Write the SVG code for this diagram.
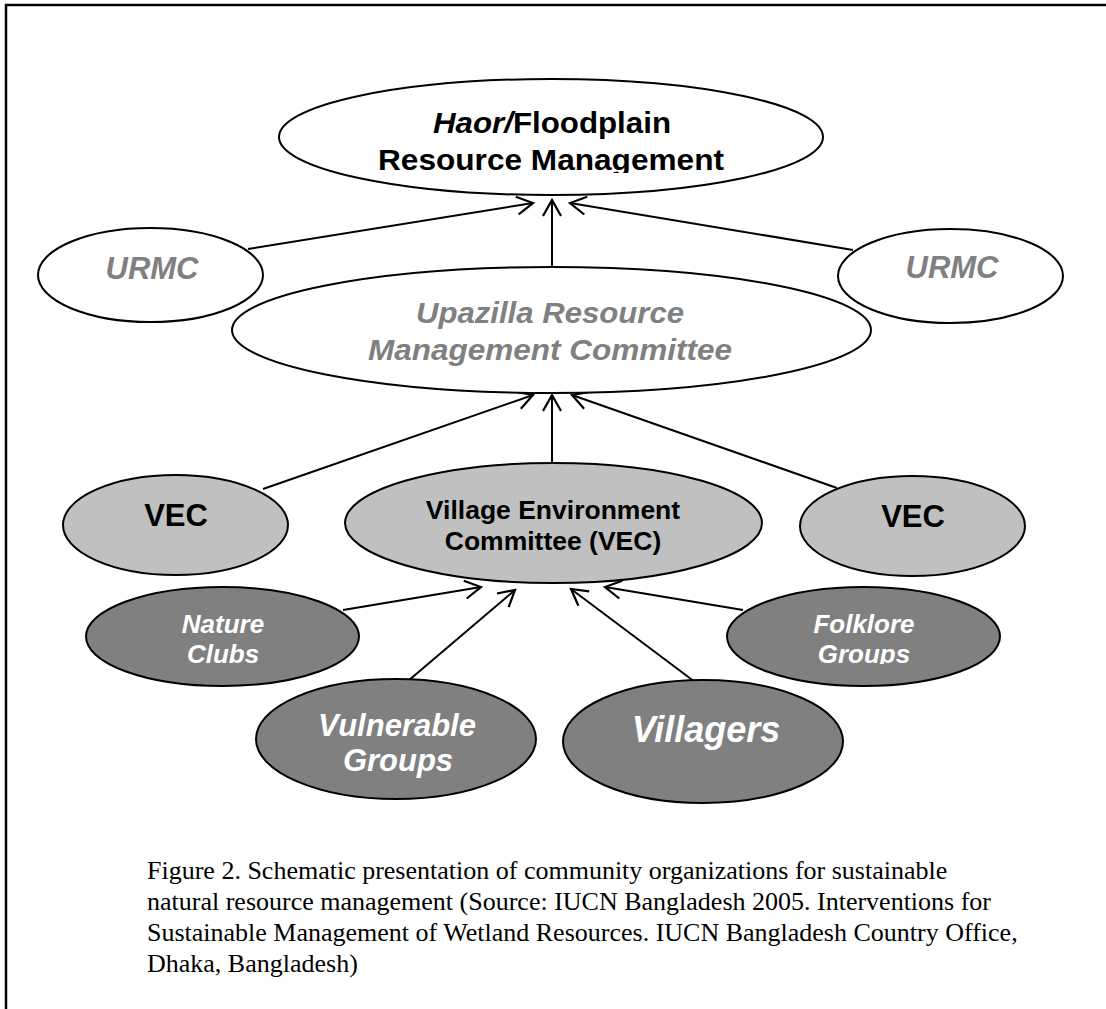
<svg xmlns="http://www.w3.org/2000/svg" width="1106" height="1009" viewBox="0 0 1106 1009">
<defs>
<marker id="arr" markerUnits="userSpaceOnUse" markerWidth="22" markerHeight="22" refX="0" refY="0" orient="auto" viewBox="-19 -11 22 22">
<path d="M-16,-9 L0,0 L-16,9" fill="none" stroke="#000" stroke-width="2.2"/>
</marker>
<clipPath id="clipTop"><rect x="0" y="0" width="1106" height="173"/></clipPath>
<clipPath id="clipFolk"><rect x="0" y="0" width="1106" height="664"/></clipPath>
</defs>
<style>
.e{stroke:#000;stroke-width:2}
.w{fill:#fff}
.g1{fill:#c0c0c0}
.g2{fill:#808080}
.t{font-family:"Liberation Sans",Arial,sans-serif;font-weight:bold;text-anchor:middle}
.k{fill:#000}
.gi{fill:#808080;font-style:italic}
.wi{fill:#fff;font-style:italic}
.cap{font-family:"Liberation Serif","Times New Roman",serif;font-size:26px;fill:#000}
.c{stroke:#000;stroke-width:2;fill:none;marker-end:url(#arr)}
</style>
<rect width="1106" height="1009" fill="#fff"/>
<path d="M6,1009 V5 H1106" fill="none" stroke="#000" stroke-width="2.5"/>

<g id="connectors">
<line class="c" x1="248" y1="249" x2="533" y2="203"/>
<line class="c" x1="552" y1="267" x2="552" y2="200"/>
<line class="c" x1="853" y1="250" x2="570" y2="203"/>
<line class="c" x1="263" y1="489" x2="533" y2="395"/>
<line class="c" x1="552" y1="463" x2="552" y2="395"/>
<line class="c" x1="837" y1="488" x2="572" y2="395"/>
<line class="c" x1="343" y1="610" x2="481" y2="587"/>
<line class="c" x1="408" y1="681" x2="515" y2="590"/>
<line class="c" x1="695" y1="682" x2="571" y2="589"/>
<line class="c" x1="743" y1="610" x2="605" y2="587"/>
</g>

<g id="haor">
<ellipse class="e w" cx="551" cy="137" rx="272" ry="58"/>
<text class="t k" x="552" y="133" font-size="30" textLength="238" lengthAdjust="spacingAndGlyphs"><tspan font-style="italic">Haor/</tspan>Floodplain</text>
<text class="t k" x="551" y="170" font-size="30" textLength="346" lengthAdjust="spacingAndGlyphs" clip-path="url(#clipTop)">Resource Management</text>
</g>

<g id="urmc-left">
<ellipse class="e w" cx="150.5" cy="275" rx="112.5" ry="47"/>
<text class="t gi" x="152" y="279" font-size="31">URMC</text>
</g>

<g id="urmc-right">
<ellipse class="e w" cx="950.5" cy="276" rx="112.5" ry="47"/>
<text class="t gi" x="952" y="278" font-size="31">URMC</text>
</g>

<g id="upazilla">
<ellipse class="e w" cx="551.5" cy="330" rx="319.5" ry="63"/>
<text class="t gi" x="550" y="323" font-size="30" textLength="268" lengthAdjust="spacingAndGlyphs">Upazilla Resource</text>
<text class="t gi" x="550" y="360" font-size="30" textLength="364" lengthAdjust="spacingAndGlyphs">Management Committee</text>
</g>

<g id="vec-left">
<ellipse class="e g1" cx="175.5" cy="525" rx="112.5" ry="50"/>
<text class="t k" x="176" y="526" font-size="31">VEC</text>
</g>

<g id="vec-center">
<ellipse class="e g1" cx="553.5" cy="523" rx="208.5" ry="60"/>
<text class="t k" x="553" y="519" font-size="26.5">Village Environment</text>
<text class="t k" x="553" y="550" font-size="26.5">Committee (VEC)</text>
</g>

<g id="vec-right">
<ellipse class="e g1" cx="912.5" cy="526" rx="112.5" ry="50"/>
<text class="t k" x="913" y="527" font-size="31">VEC</text>
</g>

<g id="nature">
<ellipse class="e g2" cx="222.5" cy="636.5" rx="136.5" ry="49.5"/>
<text class="t wi" x="223" y="633" font-size="26">Nature</text>
<text class="t wi" x="223" y="663" font-size="26">Clubs</text>
</g>

<g id="folklore">
<ellipse class="e g2" cx="863.5" cy="636.5" rx="136.5" ry="49.5"/>
<text class="t wi" x="864" y="633" font-size="26">Folklore</text>
<text class="t wi" x="864" y="663" font-size="26" clip-path="url(#clipFolk)">Groups</text>
</g>

<g id="vulnerable">
<ellipse class="e g2" cx="396" cy="739" rx="140" ry="60"/>
<text class="t wi" x="397" y="736" font-size="31">Vulnerable</text>
<text class="t wi" x="398" y="771" font-size="31">Groups</text>
</g>

<g id="villagers">
<ellipse class="e g2" cx="703" cy="741.5" rx="140" ry="61.5"/>
<text class="t wi" x="706" y="742" font-size="36">Villagers</text>
</g>

<g id="caption">
<text class="cap" x="147" y="879">Figure 2. Schematic presentation of community organizations for sustainable</text>
<text class="cap" x="147" y="910">natural resource management (Source: IUCN Bangladesh 2005. Interventions for</text>
<text class="cap" x="147" y="941">Sustainable Management of Wetland Resources. IUCN Bangladesh Country Office,</text>
<text class="cap" x="147" y="972">Dhaka, Bangladesh)</text>
</g>
</svg>
